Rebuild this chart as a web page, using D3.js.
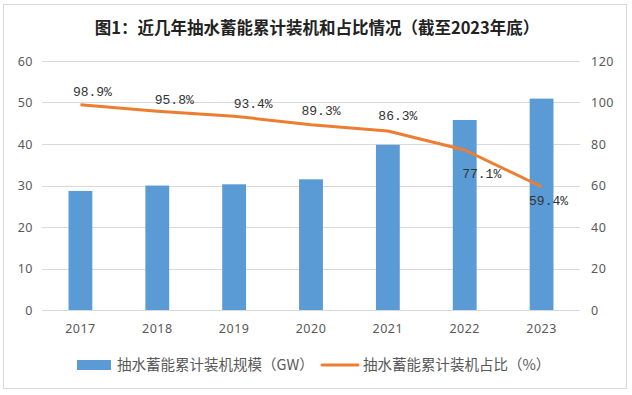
<!DOCTYPE html>
<html>
<head>
<meta charset="utf-8">
<script src="https://cdn.jsdelivr.net/npm/d3@7"></script>
<style>
  body { margin: 0; background: #fff; }
</style>
</head>
<body>
<svg id="chart" width="632" height="395"></svg>
<script>
const years = ['2017', '2018', '2019', '2020', '2021', '2022', '2023']
const capacity = [28.69, 29.99, 30.29, 31.49, 39.8, 45.79, 50.94] // GW
const share = [98.9, 95.8, 93.4, 89.3, 86.3, 77.1, 59.4] // %
const leftTicks = [0, 10, 20, 30, 40, 50, 60]
const rightTicks = [0, 20, 40, 60, 80, 100, 120]

// label nudges (layout only)
const labelDx = [12, 17, 19, 10, 10, 17, 7]
const labelDy = [-13, -12, -13, -14, -15, 23, 14]

const cjk = '"Noto Sans CJK SC", "Noto Sans", sans-serif'

const svg = d3.select('#chart')
const margin = { top: 61, left: 42, right: 52, bottom: 85 }
const width = 632 - margin.left - margin.right
const height = 395 - margin.top - margin.bottom

svg.append('rect') // 外框
  .attr('x', 3.5).attr('y', 4.5)
  .attr('width', 623).attr('height', 384)
  .attr('fill', '#fff').attr('stroke', '#d9d9d9')

svg.append('text') // 标题
  .attr('x', 317).attr('y', 34)
  .attr('text-anchor', 'middle')
  .style('font-family', cjk)
  .style('font-size', '16.5px').style('font-weight', 700)
  .attr('fill', '#222')
  .text('图1：近几年抽水蓄能累计装机和占比情况（截至2023年底）')

const x = d3.scaleBand().domain(years).range([0, width]).paddingInner(0.69).paddingOuter(0.345)
const yL = d3.scaleLinear().domain([0, 60]).range([height, 0])
const yR = d3.scaleLinear().domain([0, 120]).range([height, 0])

const g = svg.append('g').attr('transform', `translate(${margin.left},${margin.top})`)

g.append('g') // 网格线
  .selectAll('line').data(leftTicks).enter().append('line')
  .attr('x1', 0).attr('x2', width)
  .attr('y1', d => Math.round(yL(d)) + 0.5).attr('y2', d => Math.round(yL(d)) + 0.5)
  .attr('stroke', '#d9d9d9')

const axisL = g.append('g')
  .call(d3.axisLeft(yL).tickValues(leftTicks).tickSize(0).tickPadding(9))
axisL.select('.domain').remove()
const axisR = g.append('g').attr('transform', `translate(${width},0)`)
  .call(d3.axisRight(yR).tickValues(rightTicks).tickSize(0).tickPadding(11))
axisR.select('.domain').remove()
const axisX = g.append('g').attr('transform', `translate(0,${height})`)
  .call(d3.axisBottom(x).tickSize(0).tickPadding(14))
axisX.select('.domain').remove()
g.selectAll('.tick text')
  .attr('fill', '#595959')
  .style('font-size', '12.5px')
  .style('letter-spacing', '0.5px')
  .style('font-family', '"Noto Sans", sans-serif')

g.selectAll('.bar') // 柱
  .data(years).enter().append('rect')
  .attr('fill', '#5b9bd5')
  .attr('x', d => x(d))
  .attr('width', x.bandwidth())
  .attr('y', (d, i) => yL(capacity[i]))
  .attr('height', (d, i) => height - yL(capacity[i]))

const line = d3.line()
  .x((d, i) => x(years[i]) + x.bandwidth() / 2)
  .y(d => yR(d))

g.append('path') // 折线
  .datum(share)
  .attr('d', line)
  .attr('fill', 'none')
  .attr('stroke', '#ed7d31')
  .attr('stroke-width', 3)
  .attr('stroke-linejoin', 'round')

g.append('g') // 数据标签
  .selectAll('text').data(share).enter().append('text')
  .attr('x', (d, i) => x(years[i]) + x.bandwidth() / 2 + labelDx[i])
  .attr('y', (d, i) => yR(d) + labelDy[i])
  .attr('dy', '0.35em')
  .attr('text-anchor', 'middle')
  .style('font-size', '13px')
  .style('font-family', '"Liberation Mono", "DejaVu Sans Mono", monospace')
  .attr('fill', '#333')
  .text(d => d.toFixed(1) + '%')

const legend = svg.append('g').attr('transform', 'translate(0,365)')
legend.append('rect')
  .attr('x', 77).attr('y', -5).attr('width', 34).attr('height', 10)
  .attr('fill', '#5b9bd5')
legend.append('text')
  .attr('x', 117).attr('y', 0).attr('dy', '0.35em')
  .style('font-family', cjk).style('font-size', '14.5px')
  .attr('fill', '#595959')
  .text('抽水蓄能累计装机规模（GW）')
legend.append('line')
  .attr('x1', 322).attr('x2', 358).attr('y1', 0).attr('y2', 0)
  .attr('stroke', '#ed7d31').attr('stroke-width', 3).attr('stroke-linecap', 'round')
legend.append('text')
  .attr('x', 363).attr('y', 0).attr('dy', '0.35em')
  .style('font-family', cjk).style('font-size', '14.5px')
  .attr('fill', '#595959')
  .text('抽水蓄能累计装机占比（%）')
</script>
</body>
</html>
